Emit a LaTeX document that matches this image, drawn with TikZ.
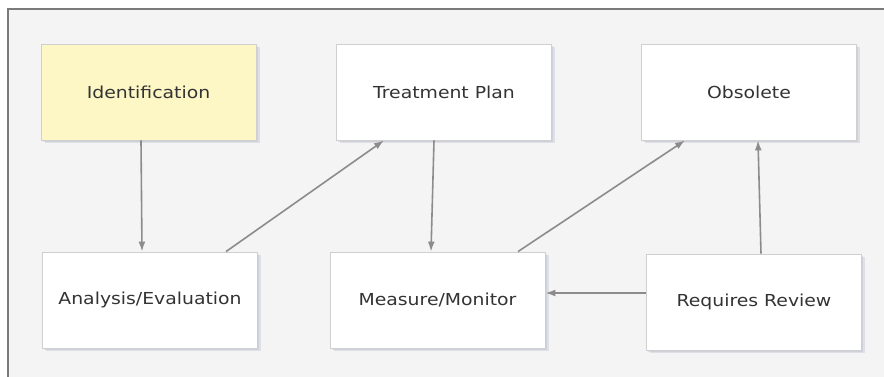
\documentclass[tikz,border=0pt]{standalone}
\usepackage{fontspec}
\setmainfont{DejaVu Sans}[FakeStretch=1.14]
\usetikzlibrary{arrows.meta,calc}
\definecolor{panel}{HTML}{F4F4F4}
\definecolor{frame}{HTML}{7A7A7A}
\definecolor{boxline}{HTML}{CFCFCF}
\definecolor{yell}{HTML}{FDF7C6}
\definecolor{arr}{HTML}{8C8C8C}
\definecolor{txt}{HTML}{333333}
\definecolor{shad}{HTML}{AEB4C8}
\tikzset{
  statebox/.style={draw=boxline, line width=0.8pt, fill=white, minimum width=215pt, minimum height=96pt,
    inner sep=0pt, text=txt, font=\fontsize{16.5}{20}\selectfont,
    preaction={fill=shad, opacity=0.3, transform canvas={xshift=3.5pt,yshift=-3.5pt}},
    preaction={fill=shad, opacity=0.3, transform canvas={xshift=1.8pt,yshift=-1.8pt}}},
  conn/.style={draw=arr, line width=1.6pt, -{Latex[length=10pt,width=7pt]}}
}
\begin{document}
\begin{tikzpicture}[x=1pt,y=1pt]
\useasboundingbox (0,0) rectangle (884,377);
\fill[white] (0,0) rectangle (884,377);
\fill[panel] (7,0) rectangle (884,369);
\draw[frame, line width=2pt] (8,0) -- (8,368) -- (884,368);
\node[statebox, fill=yell] (id) at (148.5,285) {Identification};
\node[statebox] (an) at (150,77) {Analysis/Evaluation};
\node[statebox] (tp) at (444,285) {Treatment Plan};
\node[statebox] (ms) at (437.5,77) {Measure/Monitor};
\node[statebox] (ob) at (749,285) {Obsolete};
\node[statebox] (rv) at (754,75) {Requires Review};
\draw[conn] ([xshift=-7.5pt]id.south) -- ([xshift=-8pt]an.north);
\draw[conn] ([xshift=76pt]an.north) -- ([xshift=-60pt]tp.south);
\draw[conn] ([xshift=-10pt]tp.south) -- ([xshift=-6.5pt]ms.north);
\draw[conn] ([xshift=80.5pt]ms.north) -- ([xshift=-64pt]ob.south);
\draw[conn] ([xshift=7pt]rv.north) -- ([xshift=9pt]ob.south);
\draw[conn] ([yshift=9pt]rv.west) -- ([yshift=7pt]ms.east);
\end{tikzpicture}
\end{document}
